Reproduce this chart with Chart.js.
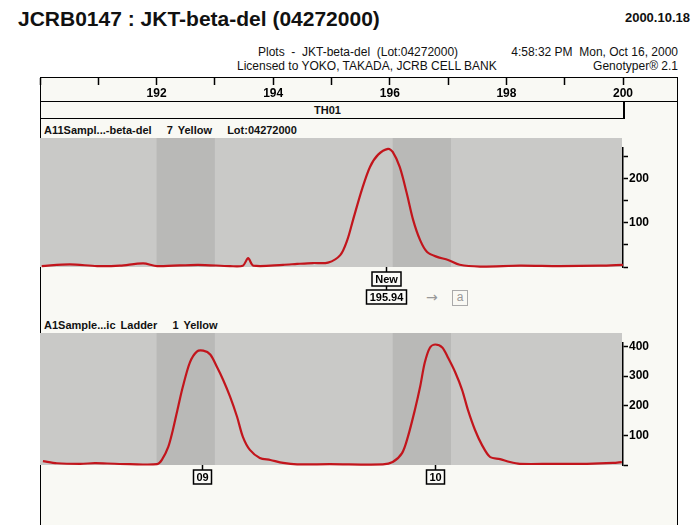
<!DOCTYPE html>
<html>
<head>
<meta charset="utf-8">
<script src="https://cdn.jsdelivr.net/npm/chart.js@4.4.1/dist/chart.umd.min.js"></script>
<style>
body { margin:0; width:700px; height:525px; background:#fff; position:relative; overflow:hidden;
       font-family:"Liberation Sans", Arial, sans-serif; color:#111; }
.abs { position:absolute; white-space:pre; line-height:1; }
#title { left:18px; top:8px; font-size:21px; font-weight:bold; }
#date { right:10px; top:11px; font-size:13px; font-weight:bold; }
.hdr { font-size:12px; }
#frame { position:absolute; left:40px; top:77px; width:638px; height:500px; box-sizing:border-box;
         border:1.5px solid #000; background:#f9f9f4; }
#rule2 { position:absolute; left:40px; top:101px; width:638px; border-top:1.5px solid #000; }
#th01 { position:absolute; left:40px; top:101px; width:585px; height:18px; box-sizing:border-box;
        border-right:2px solid #000; border-bottom:1.5px solid #000; }
.lbl { font-size:11px; font-weight:bold; }
.sample { word-spacing:2px; }
canvas { position:absolute; left:0; }
#hand { left:426px; top:290px; font-size:14px; color:#999; font-family:"DejaVu Sans", sans-serif; }
#handA { position:absolute; left:452px; top:290px; width:14px; height:14px; border:1px solid #aaa;
         font-size:12px; color:#999; text-align:center; line-height:13px; }
</style>
</head>
<body>
<div class="abs" id="title">JCRB0147 : JKT-beta-del (04272000)</div>
<div class="abs" id="date">2000.10.18</div>
<div class="abs hdr" style="left:258px;top:46px">Plots  -  JKT-beta-del  (Lot:04272000)</div>
<div class="abs hdr" style="right:22px;top:46px">4:58:32 PM  Mon, Oct 16, 2000</div>
<div class="abs hdr" style="left:237px;top:60px">Licensed to YOKO, TAKADA, JCRB CELL BANK</div>
<div class="abs hdr" style="right:22px;top:60px">Genotyper® 2.1</div>

<div id="frame"></div>
<div id="rule2"></div>
<div id="th01"></div>
<div class="abs lbl" style="left:314px;top:105px">TH01</div>
<div class="abs lbl sample" style="left:44px;top:125px">A11Sampl...-beta-del   7 Yellow   Lot:04272000</div>
<div class="abs lbl sample" style="left:44px;top:320px">A1Sample...ic Ladder   1 Yellow</div>
<div class="abs" id="hand">→</div>
<div id="handA">a</div>

<canvas id="ruler" width="700" height="32" style="top:70px"></canvas>
<canvas id="panel1" width="700" height="200" style="top:120px"></canvas>
<canvas id="panel2" width="700" height="205" style="top:320px"></canvas>

<script>
// fragment size (bp) and peak height (RFU)
var p1Size = [190.03, 190.51, 190.98, 191.37, 191.77, 192.01, 192.71, 193.26, 193.48, 193.57, 193.66,
              194.17, 194.41, 194.68, 194.94, 195.15, 195.27, 195.37, 195.52, 195.66, 195.80, 195.97,
              196.05, 196.17, 196.29, 196.40, 196.52, 196.64, 196.81, 197.00, 197.20, 197.55, 198.23,
              198.92, 199.61, 200.0];
var p1Height = [2, 6, 2, 3, 8, 2, 5, 2, 3, 20, 3,
                5, 7, 9, 10, 27, 61, 107, 175, 227, 255, 268,
                261, 227, 168, 107, 61, 34, 23, 16, 5, 1, 3,
                2, 3, 5];

var p2Size = [190.05, 190.29, 190.69, 190.94, 191.15, 191.54, 192.01, 192.09, 192.20, 192.28, 192.37,
              192.45, 192.57, 192.69, 192.80, 192.92, 193.04, 193.14, 193.26, 193.38, 193.48, 193.60,
              193.77, 193.95, 194.17, 194.41, 194.97, 195.88, 196.05, 196.21, 196.31, 196.43, 196.52,
              196.60, 196.69, 196.78, 196.90, 197.00, 197.12, 197.24, 197.34, 197.46, 197.58, 197.72,
              197.89, 198.06, 198.23, 198.80, 199.38, 199.83, 199.98];
var p2Height = [13, 6, 4, 6, 5, 3, 3, 17, 61, 119, 197,
                264, 346, 383, 386, 373, 329, 288, 231, 163, 95, 51,
                24, 17, 7, 2, 3, 2, 10, 40, 95, 186, 264,
                346, 397, 407, 397, 362, 314, 254, 186, 119, 68, 27,
                20, 10, 4, 4, 4, 7, 10];

// allele calls
var p1CallSize = [195.94];
var p1CallText = [['New', '195.94']];
var p2CallSize = [192.78, 196.78];
var p2CallText = [['09'], ['10']];

// bin ranges shaded darker
var bins = [[192.0, 193.0], [196.05, 197.05]];

var boldFont = { family: '"Liberation Sans", Arial, sans-serif', size: 12, weight: 'bold' };

var gelShade = {
    id: 'gelShade',
    beforeDatasetsDraw: function (chart) {
        var ctx = chart.ctx, a = chart.chartArea, x = chart.scales.x;
        var top = a.top - 10, h = a.bottom - top;
        ctx.save();
        ctx.fillStyle = '#c9c9c7';
        ctx.fillRect(a.left, top, a.right - a.left - 1, h);
        ctx.fillStyle = 'rgba(70,70,70,0.12)';
        bins.forEach(function (b) {
            var l = x.getPixelForValue(b[0]), r = x.getPixelForValue(b[1]);
            ctx.fillRect(l, top, r - l, h);
        });
        ctx.restore();
    }
};

var callBoxes = {
    id: 'callBoxes',
    afterDatasetsDraw: function (chart, args, opts) {
        var ctx = chart.ctx, x = chart.scales.x, base = chart.chartArea.bottom;
        ctx.save();
        ctx.font = 'bold 11px "Liberation Sans", Arial, sans-serif';
        ctx.textAlign = 'center';
        ctx.textBaseline = 'middle';
        ctx.strokeStyle = '#000';
        ctx.lineWidth = 1.5;
        opts.sizes.forEach(function (s, k) {
            var px = Math.round(x.getPixelForValue(s)) + 0.5;
            var y = base;
            opts.texts[k].forEach(function (t, i) {
                var gap = i === 0 ? 5 : 4, h = 14;
                var w = Math.round(ctx.measureText(t).width) + 6;
                ctx.beginPath();
                ctx.moveTo(px, y);
                ctx.lineTo(px, y + gap);
                ctx.stroke();
                y += gap;
                ctx.fillStyle = '#fbfbf8';
                ctx.fillRect(px - w / 2, y, w, h);
                ctx.strokeRect(px - w / 2, y, w, h);
                ctx.fillStyle = '#000';
                ctx.fillText(t, px, y + h / 2 + 1);
                y += h;
            });
        });
        ctx.restore();
    }
};

function panel(id, sizes, heights, yMax, padTop, padBottom, callSizes, callTexts) {
    var pts = sizes.map(function (s, i) { return { x: s, y: heights[i] }; });
    return new Chart(document.getElementById(id), {
        type: 'line',
        data: {
            datasets: [{
                data: pts,
                borderColor: '#c2151c',
                borderWidth: 2.2,
                pointRadius: 0,
                tension: 0.3,
                clip: false
            }]
        },
        plugins: [gelShade, callBoxes],
        options: {
            responsive: false,
            animation: false,
            layout: { padding: { left: 40, right: 37, top: padTop, bottom: padBottom } },
            plugins: {
                legend: { display: false },
                tooltip: { enabled: false },
                callBoxes: { sizes: callSizes, texts: callTexts }
            },
            scales: {
                x: { type: 'linear', min: 190, max: 200, display: false },
                y: {
                    position: 'right',
                    min: 0,
                    max: yMax,
                    afterFit: function (s) { s.width = 40; },
                    border: { color: '#000', width: 1.5 },
                    grid: { drawOnChartArea: false, tickLength: 5, tickColor: '#000', tickWidth: 1.5 },
                    ticks: {
                        stepSize: 50,
                        includeBounds: false,
                        padding: 1,
                        color: '#000',
                        font: boldFont,
                        callback: function (v) { return v > 0 && v % 100 === 0 ? String(v) : ''; }
                    }
                }
            }
        }
    });
}

// size ruler along the top
new Chart(document.getElementById('ruler'), {
    type: 'line',
    data: { datasets: [] },
    options: {
        responsive: false,
        animation: false,
        layout: { padding: { left: 40, right: 77, top: 8, bottom: 0 } },
        plugins: { legend: { display: false }, tooltip: { enabled: false } },
        scales: {
            x: {
                type: 'linear', min: 190, max: 200, position: 'bottom',
                afterFit: function (s) { s.height = 24; },
                border: { display: false },
                grid: { drawOnChartArea: false, tickLength: 7, tickColor: '#000', tickWidth: 1.5 },
                ticks: {
                    stepSize: 1, autoSkip: false, maxRotation: 0, padding: 1,
                    color: '#000', font: boldFont,
                    callback: function (v) { return v > 190 && v % 2 === 0 ? String(v) : ''; }
                }
            },
            y: { display: false }
        }
    }
});

panel('panel1', p1Size, p1Height, 270, 28, 53, p1CallSize, p1CallText);
panel('panel2', p2Size, p2Height, 412, 23, 60, p2CallSize, p2CallText);
</script>
</body>
</html>
